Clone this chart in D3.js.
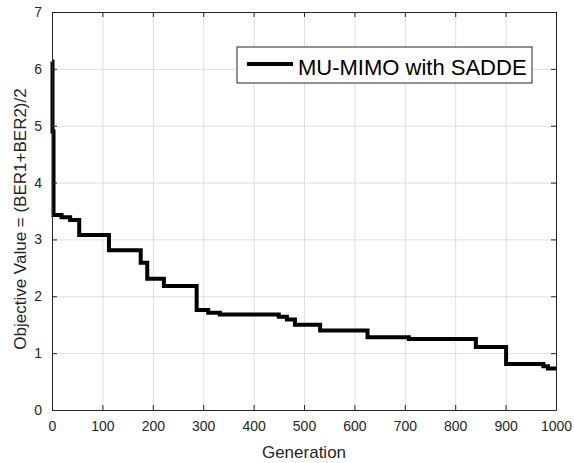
<!DOCTYPE html>
<html>
<head>
<meta charset="utf-8">
<script src="https://cdn.jsdelivr.net/npm/d3@7"></script>
<style>
  body { margin: 0; background: #fff; }
  svg { font-family: Arial, "Liberation Sans", Helvetica, sans-serif; }
  .grid line { stroke: #dedede; stroke-width: 1; }
  .grid path { display: none; }
  .axis path, .axis line { stroke: #262626; }
  .axis text { fill: #262626; font-size: 14px; }
</style>
</head>
<body>
<div id="vis"></div>
<script>
// frame + plot box, same as the matlab figure
const FRAME_WIDTH = 574;
const FRAME_HEIGHT = 463;
const MARGINS = {left: 52, right: 18, top: 12, bottom: 53};
const VIS_WIDTH = FRAME_WIDTH - MARGINS.left - MARGINS.right;
const VIS_HEIGHT = FRAME_HEIGHT - MARGINS.top - MARGINS.bottom;

// best objective value per generation (only where it changes)
const generations = [0, 1, 3, 19, 36, 54, 113, 176, 189, 222, 287, 310, 333, 450, 466, 482, 532, 626, 708, 841, 901, 975, 984, 1000];
const objValues = [6.13, 4.9, 3.43, 3.39, 3.34, 3.08, 2.81, 2.59, 2.31, 2.18, 1.76, 1.71, 1.68, 1.64, 1.59, 1.50, 1.40, 1.28, 1.25, 1.11, 0.81, 0.77, 0.73, 0.73];

const xTicks = [0, 100, 200, 300, 400, 500, 600, 700, 800, 900, 1000];
const yTicks = [0, 1, 2, 3, 4, 5, 6, 7];
const seriesName = "MU-MIMO with SADDE";

const svg = d3.select("#vis")
  .append("svg")
  .attr("width", FRAME_WIDTH)
  .attr("height", FRAME_HEIGHT);

const X_SCALE = d3.scaleLinear().domain([0, 1000]).range([0, VIS_WIDTH]);
const Y_SCALE = d3.scaleLinear().domain([0, 7]).range([VIS_HEIGHT, 0]);
const fmt = d3.format("d");

const g = svg.append("g")
  .attr("transform", "translate(" + MARGINS.left + "," + MARGINS.top + ")");

// grid lines
g.append("g")
  .attr("class", "grid")
  .attr("transform", "translate(0," + VIS_HEIGHT + ")")
  .call(d3.axisBottom(X_SCALE).tickValues(xTicks).tickSize(-VIS_HEIGHT).tickFormat(""));
g.append("g")
  .attr("class", "grid")
  .call(d3.axisLeft(Y_SCALE).tickValues(yTicks).tickSize(-VIS_WIDTH).tickFormat(""));

// the step line
const pts = generations.map((d, i) => ({x: d, y: objValues[i]}));
const line = d3.line()
  .x(d => X_SCALE(d.x))
  .y(d => Y_SCALE(d.y))
  .curve(d3.curveStepAfter);

g.append("path")
  .datum(pts)
  .attr("d", line)
  .attr("fill", "none")
  .attr("stroke", "#000")
  .attr("stroke-width", 4)
  .attr("stroke-linejoin", "miter");

// axes - ticks point inward, box on all 4 sides
g.append("g")
  .attr("class", "axis")
  .attr("transform", "translate(0," + VIS_HEIGHT + ")")
  .call(d3.axisBottom(X_SCALE).tickValues(xTicks).tickFormat(fmt).tickSizeInner(-5).tickSizeOuter(0).tickPadding(11));
g.append("g")
  .attr("class", "axis")
  .call(d3.axisLeft(Y_SCALE).tickValues(yTicks).tickFormat(fmt).tickSizeInner(-5).tickSizeOuter(0).tickPadding(10));
g.append("g")
  .attr("class", "axis")
  .call(d3.axisTop(X_SCALE).tickValues(xTicks).tickSizeInner(-5).tickSizeOuter(0).tickFormat(""));
g.append("g")
  .attr("class", "axis")
  .attr("transform", "translate(" + VIS_WIDTH + ",0)")
  .call(d3.axisRight(Y_SCALE).tickValues(yTicks).tickSizeInner(-5).tickSizeOuter(0).tickFormat(""));

// axis labels
svg.append("text")
  .attr("x", MARGINS.left + VIS_WIDTH / 2)
  .attr("y", 458)
  .attr("text-anchor", "middle")
  .attr("fill", "#262626")
  .attr("font-size", "17px")
  .text("Generation");

svg.append("text")
  .attr("transform", "translate(26," + (MARGINS.top + VIS_HEIGHT / 2 + 8) + ") rotate(-90)")
  .attr("text-anchor", "middle")
  .attr("fill", "#262626")
  .attr("font-size", "17px")
  .text("Objective Value = (BER1+BER2)/2");

// legend
const legend = svg.append("g").attr("transform", "translate(237,47)");
legend.append("rect")
  .attr("width", 295)
  .attr("height", 36)
  .attr("fill", "#fff")
  .attr("stroke", "#262626")
  .attr("stroke-width", 1);
legend.append("line")
  .attr("x1", 10).attr("x2", 56)
  .attr("y1", 17).attr("y2", 17)
  .attr("stroke", "#000")
  .attr("stroke-width", 4);
legend.append("text")
  .attr("x", 61)
  .attr("y", 28)
  .attr("font-size", "22px")
  .attr("fill", "#000")
  .text(seriesName);
</script>
</body>
</html>
